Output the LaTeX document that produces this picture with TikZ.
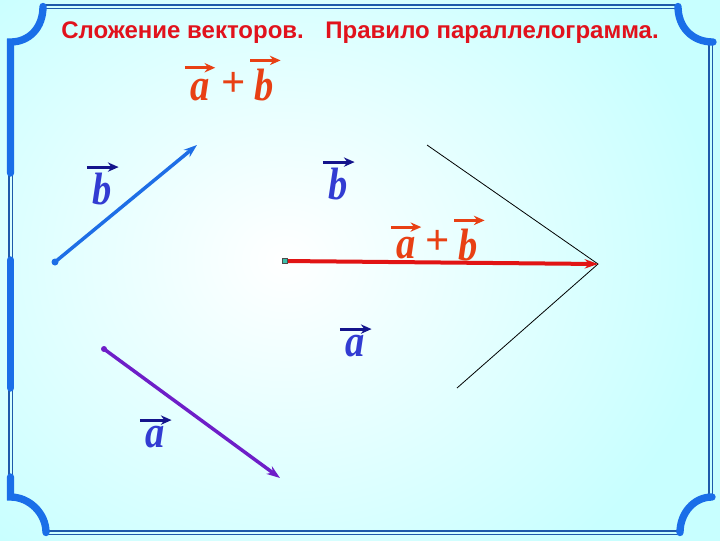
\documentclass[tikz,border=0pt]{standalone}
\usepackage{fontspec}
\setmainfont{Liberation Serif}
\newfontfamily\titlefont{Liberation Sans}
\newfontfamily\labfont[FakeStretch=0.85]{Liberation Serif}
\usetikzlibrary{arrows.meta}
\definecolor{bgcyan}{RGB}{200,255,255}
\definecolor{framethick}{RGB}{26,110,232}
\definecolor{framethin}{RGB}{30,90,170}
\definecolor{titlered}{RGB}{225,18,28}
\definecolor{labblue}{RGB}{50,60,210}
\definecolor{labnavy}{RGB}{20,20,140}
\definecolor{labred}{RGB}{232,64,20}
\definecolor{vecb}{RGB}{30,110,230}
\definecolor{veca}{RGB}{110,30,200}
\definecolor{vecs}{RGB}{225,20,20}
\definecolor{marker}{RGB}{60,190,170}
\tikzset{
  thickframe/.style={draw=framethick,line width=5.5pt,line cap=round},
  thinframe/.style={draw=framethin,line width=0.9pt},
  vlab/.style={inner sep=0pt,text depth=0pt,anchor=base,font=\labfont\bfseries\itshape\fontsize{34}{34}\selectfont},
  alab/.style={vlab,text height=16pt},
  blab/.style={vlab,text height=23.5pt},
  bluelab/.style={text=labblue},
  redlab/.style={text=labred},
  navyarr/.style={draw=labnavy,line width=2.2pt,-{Stealth[length=8pt,width=7pt]}},
  redarr/.style={draw=labred,line width=2.2pt,-{Stealth[length=8pt,width=7pt]}},
  plusnode/.style={inner sep=0pt,anchor=base,text=labred,font=\bfseries\fontsize{32}{32}\selectfont},
  vecline/.style={line width=2.6pt,-{Stealth[length=10pt,width=7pt]}},
  thinblack/.style={draw=black,line width=0.6pt}
}
\begin{document}
\begin{tikzpicture}[x=0.75pt,y=-0.75pt]
\useasboundingbox (0,0) rectangle (720,540);
% background
\shade[inner color=white,outer color=bgcyan] (-150,-120) rectangle (720,640);
% thin double frame
\draw[thinframe] (43,5) -- (678,5);
\draw[thinframe] (43,8.5) -- (678,8.5);
\draw[thinframe] (709,42) -- (709,497);
\draw[thinframe] (712.5,42) -- (712.5,497);
\draw[thinframe] (47,531) -- (681,531);
\draw[thinframe] (47,534.5) -- (681,534.5);
\draw[thinframe] (9,42) -- (9,497);
\draw[thinframe] (12.5,42) -- (12.5,497);
% thick frame parts
\draw[thickframe] (10.5,173) -- (10.5,42) .. controls (29,42) and (43,28) .. (43,6.5);
\draw[thickframe] (678,6.5) .. controls (678,27) and (692,42) .. (713,42);
\draw[thickframe] (10.5,260) -- (10.5,388);
\draw[thickframe] (10.5,477) -- (10.5,497) .. controls (29,497) and (46,513) .. (46,532.5);
\draw[thickframe] (680,532.5) .. controls (680,513) and (694,497) .. (712,497);
% title
\node[text=titlered,font=\titlefont\bfseries\fontsize{18}{20}\selectfont] (title) at (360,33)
  {Сложение векторов.\hspace{0.9em}Правило параллелограмма.};
% top a+b
\node[alab,redlab] (ta) at (200,100) {a};
\node[plusnode] (tp) at (234,96) {+};
\node[blab,redlab] (tb) at (264,100) {b};
\draw[redarr] ([xshift=-4pt,yshift=8pt]ta.north west) -- ([xshift=4pt,yshift=8pt]ta.north east);
\draw[redarr] ([xshift=-3pt,yshift=6pt]tb.north west) -- ([xshift=5pt,yshift=6pt]tb.north east);
% vector b (left)
\coordinate (b0) at (55,262);
\coordinate (b1) at (197,145);
\fill[vecb] (b0) circle (3.5);
\draw[vecline,draw=vecb,fill=vecb] (b0) -- (b1);
\node[blab,bluelab] (lb) at (102,204) {b};
\draw[navyarr] ([xshift=-4pt,yshift=4pt]lb.north west) -- ([xshift=5pt,yshift=4pt]lb.north east);
% vector a (bottom)
\coordinate (a0) at (104,349);
\coordinate (a1) at (280,478);
\fill[veca] (a0) circle (3);
\draw[vecline,draw=veca,fill=veca] (a0) -- (a1);
\node[alab,bluelab] (la) at (155,447) {a};
\draw[navyarr] ([xshift=-4pt,yshift=4pt]la.north west) -- ([xshift=5pt,yshift=4pt]la.north east);
% parallelogram lines
\coordinate (p1) at (427,145);
\coordinate (p2) at (598,264);
\coordinate (p3) at (457,388);
\draw[thinblack] (p1) -- (p2) -- (p3);
% sum vector
\coordinate (s0) at (285,261);
\draw[vecline,draw=vecs,fill=vecs,line width=3pt] (s0) -- (p2);
\node[draw=black!70,fill=marker,minimum size=4pt,inner sep=0pt,line width=0.4pt] (sq) at (s0) {};
% middle labels
\node[blab,bluelab] (mb) at (338,199) {b};
\draw[navyarr] ([xshift=-4pt,yshift=4pt]mb.north west) -- ([xshift=5pt,yshift=4pt]mb.north east);
\node[alab,bluelab] (ma) at (355,356) {a};
\draw[navyarr] ([xshift=-4pt,yshift=4pt]ma.north west) -- ([xshift=5pt,yshift=4pt]ma.north east);
\node[alab,redlab] (sa) at (406,258) {a};
\node[plusnode] (sp) at (438,254) {+};
\node[blab,redlab] (sb) at (468,260) {b};
\draw[redarr] ([xshift=-4pt,yshift=7pt]sa.north west) -- ([xshift=4pt,yshift=7pt]sa.north east);
\draw[redarr] ([xshift=-3pt,yshift=6pt]sb.north west) -- ([xshift=5pt,yshift=6pt]sb.north east);
\end{tikzpicture}
\end{document}
